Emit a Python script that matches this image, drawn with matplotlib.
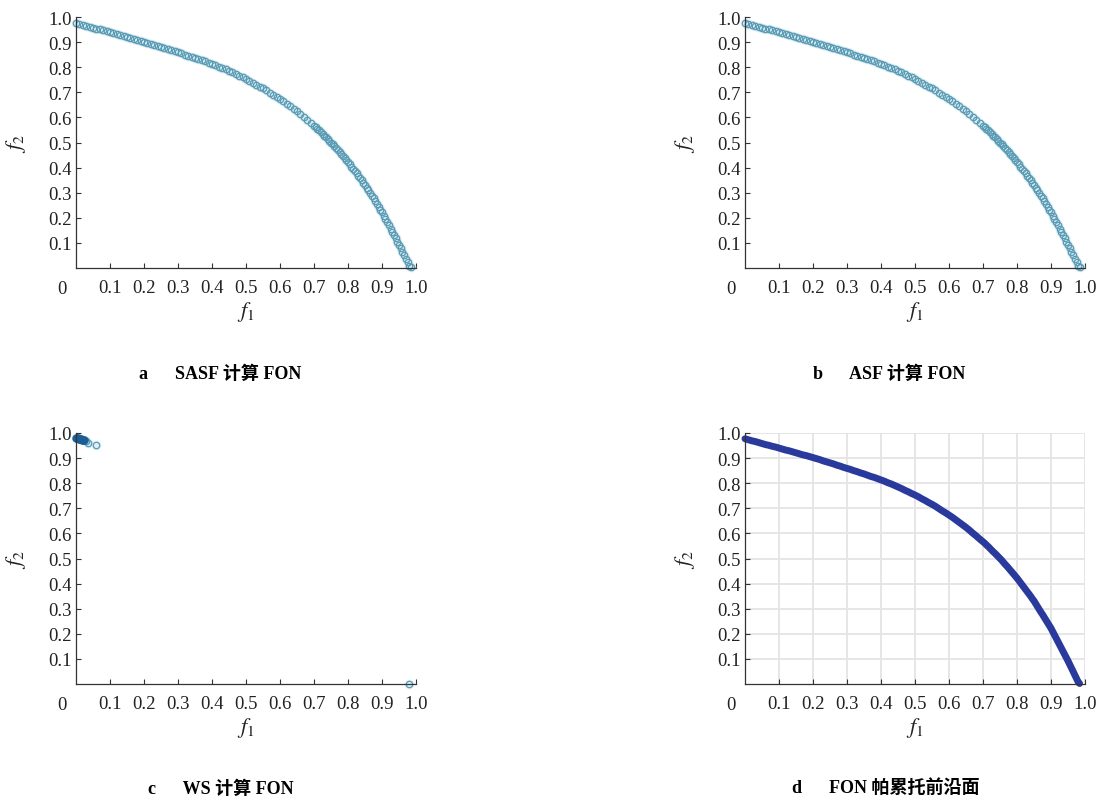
import matplotlib
matplotlib.use("Agg")
import matplotlib.pyplot as plt

plt.rcParams["font.family"] = ["Liberation Serif", "Noto Sans CJK SC"]
plt.rcParams["mathtext.fontset"] = "stix"

# --- Pareto front points (f1, f2) ---
front_f1 = [
    0.00, 0.01, 0.02, 0.03, 0.04, 0.05, 0.06, 0.07, 0.08, 0.09,
    0.10, 0.11, 0.12, 0.13, 0.14, 0.15, 0.16, 0.17, 0.18, 0.19,
    0.20, 0.21, 0.22, 0.23, 0.24, 0.25, 0.26, 0.27, 0.28, 0.29,
    0.30, 0.31, 0.32, 0.33, 0.34, 0.35, 0.36, 0.37, 0.38, 0.39,
    0.40, 0.41, 0.42, 0.43, 0.44, 0.45, 0.46, 0.47, 0.48, 0.49,
    0.50, 0.51, 0.52, 0.53, 0.54, 0.55, 0.56, 0.57, 0.58, 0.59,
    0.60, 0.61, 0.62, 0.63, 0.64, 0.65, 0.66, 0.67, 0.68, 0.69,
    0.700, 0.705, 0.710, 0.715, 0.720, 0.725, 0.730, 0.735, 0.740, 0.745,
    0.750, 0.755, 0.760, 0.765, 0.770, 0.775, 0.780, 0.785, 0.790, 0.795,
    0.800, 0.805, 0.810, 0.815, 0.820, 0.825, 0.830, 0.835, 0.840, 0.845,
    0.850, 0.855, 0.860, 0.865, 0.870, 0.875, 0.880, 0.885, 0.890, 0.895,
    0.900, 0.905, 0.910, 0.915, 0.920, 0.925, 0.930, 0.935, 0.940, 0.945,
    0.950, 0.955, 0.960, 0.965, 0.970, 0.975, 0.980, 0.984,
]
front_f2 = [
    0.977, 0.973, 0.969, 0.966, 0.962, 0.958, 0.954, 0.951, 0.947, 0.944,
    0.940, 0.936, 0.932, 0.929, 0.925, 0.921, 0.917, 0.913, 0.910, 0.906,
    0.902, 0.898, 0.894, 0.889, 0.885, 0.881, 0.877, 0.872, 0.868, 0.863,
    0.859, 0.855, 0.850, 0.846, 0.841, 0.837, 0.832, 0.827, 0.823, 0.818,
    0.813, 0.808, 0.802, 0.797, 0.791, 0.785, 0.779, 0.772, 0.766, 0.759,
    0.753, 0.746, 0.738, 0.731, 0.723, 0.716, 0.708, 0.699, 0.690, 0.682,
    0.673, 0.664, 0.654, 0.644, 0.634, 0.624, 0.613, 0.601, 0.590, 0.578,
    0.567, 0.561, 0.554, 0.548, 0.541, 0.534, 0.527, 0.521, 0.514, 0.507,
    0.500, 0.493, 0.485, 0.477, 0.470, 0.462, 0.454, 0.446, 0.438, 0.430,
    0.422, 0.413, 0.404, 0.395, 0.386, 0.377, 0.368, 0.359, 0.350, 0.340,
    0.331, 0.320, 0.309, 0.298, 0.287, 0.277, 0.266, 0.255, 0.244, 0.233,
    0.222, 0.209, 0.196, 0.183, 0.170, 0.157, 0.144, 0.131, 0.118, 0.105,
    0.092, 0.078, 0.064, 0.050, 0.036, 0.022, 0.008, 0.002,
]

# --- WS result: clustered near the f2 end, plus a few spread points ---
ws_cluster_f1 = [0.000, 0.003, 0.006, 0.009, 0.012, 0.015, 0.018, 0.021, 0.024]
ws_cluster_f2 = [0.982, 0.981, 0.980, 0.978, 0.977, 0.976, 0.974, 0.973, 0.971]
ws_spread_f1 = [0.030, 0.036, 0.059, 0.979]
ws_spread_f2 = [0.968, 0.962, 0.952, 0.001]

ticks = [0.1, 0.2, 0.3, 0.4, 0.5, 0.6, 0.7, 0.8, 0.9, 1.0]
tick_labels = ["0.1", "0.2", "0.3", "0.4", "0.5", "0.6", "0.7", "0.8", "0.9", "1.0"]

captions = [
    "a      SASF 计算 FON",
    "b      ASF 计算 FON",
    "c      WS 计算 FON",
    "d      FON 帕累托前沿面",
]

W, H = 1105, 803
fig = plt.figure(figsize=(W / 100, H / 100), dpi=100)

TICK_FS = 13.5


def make_axes(left_px, xaxis_px):
    ax = fig.add_axes([left_px / W, (H - xaxis_px) / H, 340 / W, 251 / H])
    ax.set_xlim(0, 1.0)
    ax.set_ylim(0, 1.0)
    for side in ("top", "right"):
        ax.spines[side].set_visible(False)
    for side in ("left", "bottom"):
        ax.spines[side].set_color("#333333")
        ax.spines[side].set_linewidth(0.9)
    ax.set_xticks(ticks)
    ax.set_xticklabels(tick_labels)
    ax.set_yticks(ticks)
    ax.set_yticklabels(tick_labels)
    ax.tick_params(direction="in", length=3.5, width=0.8, color="#333333",
                   labelsize=TICK_FS, labelcolor="#222222")
    ax.tick_params(axis="x", pad=8)
    ax.tick_params(axis="y", pad=3)
    ax.annotate("0", xy=(0, 0), xycoords="data", xytext=(-10, -8.5),
                textcoords="offset points", ha="center", va="top",
                fontsize=TICK_FS, color="#222222")
    ax.set_xlabel("$f_1$", fontsize=16, color="#222222")
    ax.xaxis.set_label_coords(0.5, -0.125)
    ax.set_ylabel("$f_2$", fontsize=16, color="#222222")
    ax.yaxis.set_label_coords(-0.14, 0.5)
    return ax


def open_circles(ax, x, y):
    # soft halo under the hollow markers
    ax.plot(x, y, "o", ms=7, mfc="#d3e9f1", mec="none", alpha=0.7, clip_on=False)
    ax.plot(x, y, "o", ms=4.6, mfc="none", mec="#5a9bb4", mew=0.9, clip_on=False)


# a: SASF
ax_a = make_axes(76, 269)
open_circles(ax_a, front_f1, front_f2)

# b: ASF
ax_b = make_axes(745, 269)
open_circles(ax_b, front_f1, front_f2)

# c: WS
ax_c = make_axes(76, 685)
open_circles(ax_c, ws_spread_f1, ws_spread_f2)
ax_c.plot(ws_cluster_f1, ws_cluster_f2, "o", ms=5.2, mfc="#1c5d94", mec="#1c5d94",
          alpha=0.85, clip_on=False)

# d: Pareto front
ax_d = make_axes(745, 685)
ax_d.grid(True, color="#e4e4e4", linewidth=1.3)
ax_d.set_axisbelow(True)
ax_d.plot(front_f1, front_f2, "-", color="#2a3a9c", lw=5, solid_capstyle="round",
          clip_on=False)

cap_fs = 13
fig.text(220 / W, 1 - 374 / H, captions[0], ha="center", va="center",
         fontsize=cap_fs, fontweight="bold")
fig.text(889 / W, 1 - 374 / H, captions[1], ha="center", va="center",
         fontsize=cap_fs, fontweight="bold")
fig.text(221 / W, 1 - 789 / H, captions[2], ha="center", va="center",
         fontsize=cap_fs, fontweight="bold")
fig.text(886 / W, 1 - 788 / H, captions[3], ha="center", va="center",
         fontsize=cap_fs, fontweight="bold")

fig.savefig("out.png", dpi=100, facecolor="white")
